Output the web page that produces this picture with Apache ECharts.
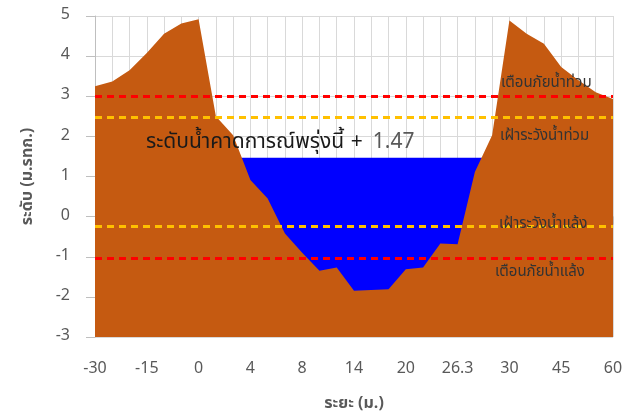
<!DOCTYPE html>
<html>
<head>
<meta charset="utf-8">
<script src="https://cdn.jsdelivr.net/npm/echarts@6/dist/echarts.min.js"></script>
<style>
  html, body { margin: 0; padding: 0; background: #fff; }
  #main { width: 633px; height: 414px; }
</style>
</head>
<body>
<div id="main"></div>
<script>
// ระยะ (ม.) - labels shown every 3rd point
const distLabels = ['-30', '-15', '0', '4', '8', '14', '20', '26.3', '30', '45', '60'];
// ระดับตลิ่ง / ท้องน้ำ (ม.รทก.) at each survey point
const groundLevel = [3.25, 3.37, 3.65, 4.08, 4.56, 4.81, 4.92, 2.5, 2.03, 0.91,
  0.45, -0.42, -0.9, -1.35, -1.27, -1.85, -1.83, -1.81, -1.31, -1.27,
  -0.67, -0.69, 1.11, 2.03, 4.89, 4.56, 4.31, 3.73, 3.4, 3.1, 2.93];
const waterLevel = 1.47; // ระดับน้ำคาดการณ์พรุ่งนี้
const floodWarn = 3.0;
const floodWatch = 2.48;
const droughtWatch = -0.23;
const droughtWarn = -1.03;

const thaiFont = "'Noto Sans Thai', 'Leelawadee UI', Tahoma, 'Noto Sans', sans-serif";
const grey = '#595959';

let chart = echarts.init(document.getElementById('main'));

let points = groundLevel.map((v, i) => String(i));
let waterData = groundLevel.map(() => waterLevel);

function dashed(color) {
  return { color: color, type: [7, 5], width: 3, opacity: 1 };
}

let option = {
  animation: false,
  grid: { left: 95, right: 20, top: 16, bottom: 77, outerBoundsMode: 'none' },
  xAxis: {
    type: 'category',
    data: points,
    boundaryGap: false,
    name: 'ระยะ (ม.)',
    nameLocation: 'middle',
    nameGap: 60,
    nameTextStyle: { color: grey, fontSize: 16, fontWeight: 'bold', fontFamily: thaiFont },
    axisLine: { lineStyle: { color: '#bfbfbf' } },
    axisTick: { interval: 0, length: 8, lineStyle: { color: '#bfbfbf' } },
    axisLabel: {
      interval: 0,
      margin: 25,
      color: grey,
      fontSize: 16,
      fontFamily: thaiFont,
      formatter: (v, i) => (i % 3 === 0 ? distLabels[i / 3] : '')
    },
    splitLine: { show: true, interval: 0, lineStyle: { color: '#d9d9d9' } }
  },
  yAxis: {
    type: 'value',
    min: -3,
    max: 5,
    interval: 1,
    name: 'ระดับ (ม.รทก.)',
    nameLocation: 'middle',
    nameGap: 58,
    nameTextStyle: { color: grey, fontSize: 16, fontWeight: 'bold', fontFamily: thaiFont },
    axisLine: { show: true, lineStyle: { color: '#bfbfbf' } },
    axisTick: { show: true, length: 9, lineStyle: { color: '#bfbfbf' } },
    axisLabel: { margin: 25, color: grey, fontSize: 16, fontFamily: thaiFont },
    splitLine: { lineStyle: { color: '#d9d9d9' } }
  },
  series: [
    {
      name: 'water',
      type: 'line',
      data: waterData,
      symbol: 'none',
      lineStyle: { width: 0 },
      areaStyle: { color: '#0000ff', opacity: 1, origin: 'start' },
      z: 2
    },
    {
      name: 'ground',
      type: 'line',
      data: groundLevel,
      symbol: 'none',
      lineStyle: { width: 0 },
      areaStyle: { color: '#c55a11', opacity: 1, origin: 'start' },
      z: 3,
      markLine: {
        silent: true,
        symbol: 'none',
        label: { show: false },
        emphasis: { disabled: true },
        data: [
          { yAxis: floodWarn, lineStyle: dashed('#ff0000') },
          { yAxis: floodWatch, lineStyle: dashed('#ffc000') },
          { yAxis: droughtWatch, lineStyle: dashed('#ffc000') },
          { yAxis: droughtWarn, lineStyle: dashed('#ff0000') }
        ]
      }
    }
  ],
  graphic: [
    {
      type: 'text', left: 146, top: 133, z: 10,
      style: {
        text: '{a|ระดับน้ำคาดการณ์พรุ่งนี้}  {a|+}   {b|' + waterLevel.toFixed(2) + '}',
        rich: {
          a: { fill: '#1a1a1a', fontSize: 21, fontFamily: thaiFont },
          b: { fill: grey, fontSize: 21, fontFamily: thaiFont }
        }
      }
    },
    { type: 'text', left: 501, top: 76, z: 10,
      style: { text: 'เตือนภัยน้ำท่วม', fill: '#333333', fontSize: 15, fontFamily: thaiFont } },
    { type: 'text', left: 500, top: 129, z: 10,
      style: { text: 'เฝ้าระวังน้ำท่วม', fill: '#333333', fontSize: 15, fontFamily: thaiFont } },
    { type: 'text', left: 499, top: 217, z: 10,
      style: { text: 'เฝ้าระวังน้ำแล้ง', fill: '#333333', fontSize: 15, fontFamily: thaiFont } },
    { type: 'text', left: 495, top: 265, z: 10,
      style: { text: 'เตือนภัยน้ำแล้ง', fill: '#333333', fontSize: 15, fontFamily: thaiFont } }
  ]
};

chart.setOption(option);
</script>
</body>
</html>
